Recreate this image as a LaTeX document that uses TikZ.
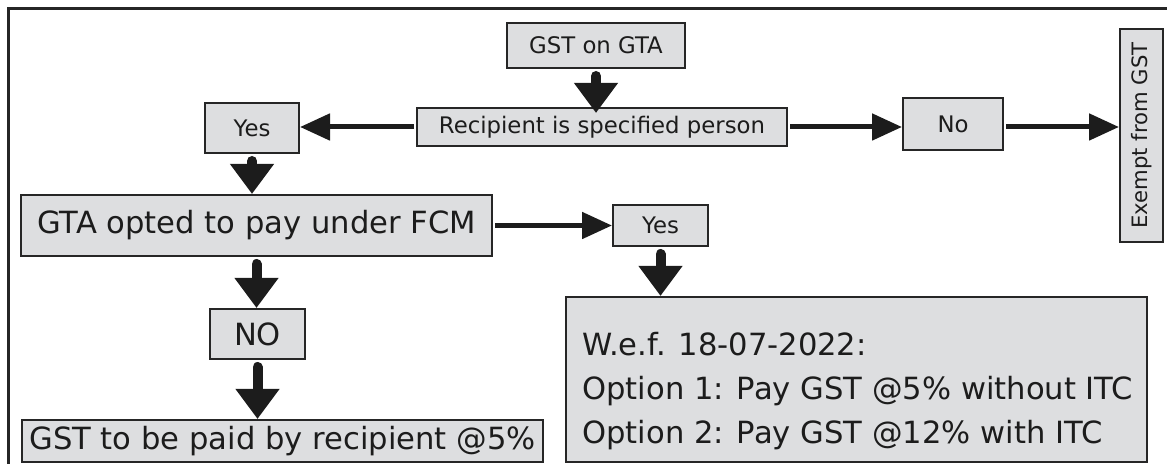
\documentclass[tikz,border=0pt]{standalone}
\usepackage{fontspec}
\setmainfont{DejaVu Sans}
\usetikzlibrary{arrows.meta}
\definecolor{boxgrey}{RGB}{221,222,224}
\definecolor{edgegrey}{RGB}{38,38,38}
\definecolor{inkgrey}{RGB}{28,28,28}
\begin{document}
\begin{tikzpicture}[
  x=0.5pt, y=-0.5pt,
  box/.style={draw=edgegrey, line width=1pt, fill=boxgrey, inner sep=0pt, align=center, text=inkgrey, font=\fontsize{11.4}{13}\selectfont},
  bigbox/.style={box, font=\fontsize{15.3}{18}\selectfont},
  harr/.style={-{Triangle[length=15pt,width=13pt]}, line width=2.5pt, draw=inkgrey, shorten <=1pt},
  varr/.style={-{Triangle[length=15pt,width=21pt]}, line width=5pt, line cap=round, draw=inkgrey, shorten <=3.5pt}
]
\useasboundingbox (0,0) rectangle (1167,464);
\draw[edgegrey, line width=1.5pt] (1167,9) -- (8,9) -- (8,464);

\node[box, minimum width=89pt, minimum height=22.5pt] (gst) at (596,45.5) {GST on GTA};
\node[box, minimum width=185pt, minimum height=19pt] (recip) at (602,127) {Recipient is specified person};
\node[box, minimum width=47pt, minimum height=25pt] (yesA) at (252,128) {Yes};
\node[box, minimum width=50pt, minimum height=26pt] (no) at (953,124) {No};
\node[box, rotate=90, minimum width=106.5pt, minimum height=21.5pt, font=\fontsize{10.6}{12}\selectfont] (exempt) at (1141.5,135.5) {Exempt from GST};
\node[bigbox, minimum width=235.5pt, minimum height=30.5pt] (gta) at (256.5,225.5) {GTA opted to pay under FCM};
\node[box, minimum width=47.5pt, minimum height=20.5pt] (yesB) at (660.5,225.5) {Yes};
\node[bigbox, minimum width=47.5pt, minimum height=25pt] (nob) at (257.5,334) {NO};
\node[bigbox, minimum width=260.5pt, minimum height=21pt] (pay) at (282.5,441) {GST to be paid by recipient @5\%};
\node[box, minimum width=290.5pt, minimum height=82.5pt] (wef) at (856.5,379.5) {};
\node[anchor=west, inner sep=0pt, align=left, text=inkgrey, font=\fontsize{15.3}{22}\selectfont, xshift=8.5pt, yshift=-6pt] (weftext) at (wef.west)
  {W.e.f. 18-07-2022:\\Option 1: Pay GST @5\% without ITC\\Option 2: Pay GST @12\% with ITC};

\draw[varr, shorten >=-3pt] (gst.south) -- (gst.south |- recip.north);
\draw[harr] (recip.west) -- (recip.west -| yesA.east);
\draw[harr] (recip.east) -- (recip.east -| no.west);
\draw[harr] (no.east |- recip.east) -- (recip.east -| exempt.north);
\draw[varr] (yesA.south) -- (yesA.south |- gta.north);
\draw[harr] (gta.east) -- (gta.east -| yesB.west);
\draw[varr] (yesB.south) -- (yesB.south |- wef.north);
\draw[varr] (gta.south) -- (gta.south |- nob.north);
\draw[varr] (nob.south) -- (nob.south |- pay.north);
\end{tikzpicture}
\end{document}
